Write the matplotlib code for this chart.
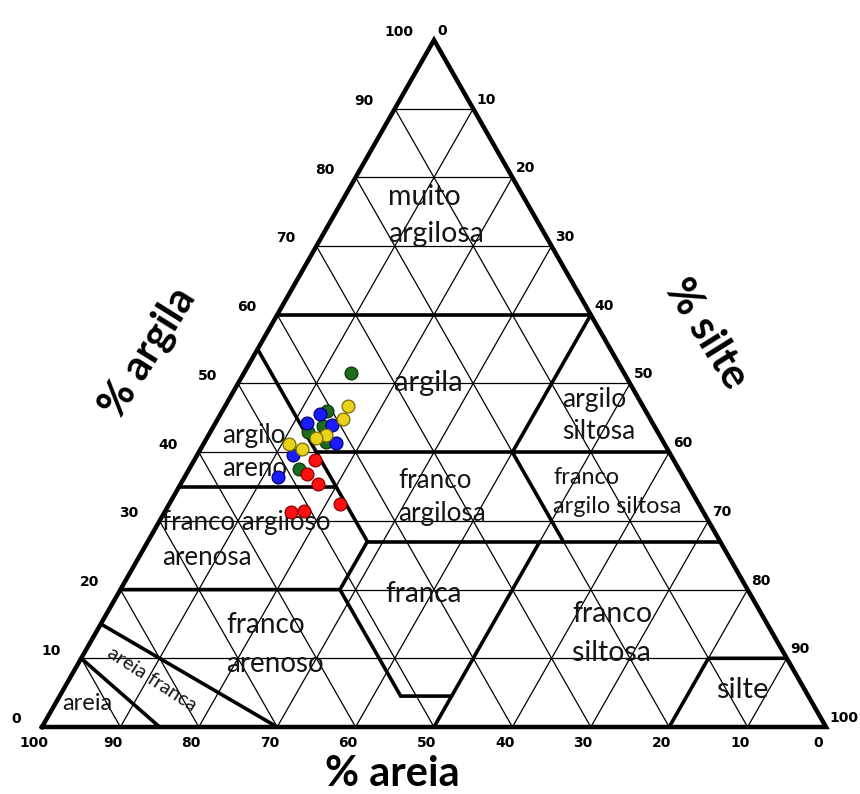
import numpy as np
import matplotlib
matplotlib.use("Agg")
import matplotlib.pyplot as plt

plt.rcParams['font.family'] = ['Lato', 'DejaVu Sans']

# ---------------- data ----------------
tick_values = [0, 10, 20, 30, 40, 50, 60, 70, 80, 90, 100]
tick_labels = ["0", "10", "20", "30", "40", "50", "60", "70", "80", "90", "100"]

# samples: (% areia, % silte, % argila)
green_sand = [34.8, 40.7, 42.2, 44.6, 43.0, 48.4]
green_silt = [13.6, 13.3, 14.0, 12.5, 15.5, 14.0]
green_clay = [51.6, 46.0, 43.8, 42.9, 41.5, 37.6]

blue_sand = [41.8, 44.0, 41.1, 41.8, 48.2, 51.7]
blue_silt = [12.6, 11.7, 15.0, 16.9, 12.2, 11.9]
blue_clay = [45.6, 44.3, 43.9, 41.3, 39.6, 36.4]

yellow_sand = [37.6, 39.2, 42.5, 44.0, 47.9, 46.6]
yellow_silt = [15.7, 16.0, 15.0, 13.9, 10.9, 13.0]
yellow_clay = [46.7, 44.8, 42.5, 42.1, 41.2, 40.4]

red_sand = [45.8, 47.8, 47.1, 45.8, 52.6, 50.9]
red_silt = [15.4, 15.4, 17.5, 21.7, 16.1, 17.7]
red_clay = [38.8, 36.8, 35.4, 32.5, 31.3, 31.4]

# class boundaries, vertices as (% areia, % silte, % argila)
boundary_areia = [(90, 0, 10), (85, 15, 0)]
boundary_areia_franca = [(85, 0, 15), (70, 30, 0)]
boundary_franco_arenoso = [(80, 0, 20), (52, 28, 20), (52, 43.5, 4.5), (45.5, 50, 4.5)]
boundary_silte50 = [(50, 50, 0), (23, 50, 27)]
boundary_silte28 = [(52, 28, 20), (45, 28, 27)]
boundary_areia45 = [(45, 0, 55), (45, 28, 27)]
boundary_argila35 = [(65, 0, 35), (45, 20, 35)]
boundary_argila27 = [(45, 28, 27), (0, 73, 27)]
boundary_argila40 = [(45, 15, 40), (0, 60, 40)]
boundary_siltosa = [(20, 53, 27), (20, 40, 40), (0, 40, 60)]
boundary_argila60 = [(40, 0, 60), (0, 40, 60)]
boundary_silte = [(20, 80, 0), (10, 80, 10), (0, 90, 10)]

boundaries = [boundary_areia, boundary_areia_franca, boundary_franco_arenoso,
              boundary_silte50, boundary_silte28, boundary_areia45,
              boundary_argila35, boundary_argila27, boundary_argila40,
              boundary_siltosa, boundary_argila60, boundary_silte]

H = np.sqrt(3) / 2


def tern(sand, silt, clay):
    sand = np.asarray(sand, float)
    silt = np.asarray(silt, float)
    clay = np.asarray(clay, float)
    return silt + clay / 2.0, clay * H


# ---------------- figure ----------------
fig = plt.figure(figsize=(8.6, 7.94), dpi=100)
ax = fig.add_axes([42 / 860, (794 - 727) / 794, 784 / 860, 687 / 794])
ax.set_xlim(0, 100)
ax.set_ylim(0, 100 * H)
ax.axis('off')

# thin grid
for v in tick_values[1:-1]:
    x, y = tern([100 - v, 0], [0, 100 - v], [v, v])          # constant clay
    ax.plot(x, y, color='black', lw=0.9, zorder=1, clip_on=False)
    x, y = tern([v, v], [100 - v, 0], [0, 100 - v])          # constant sand
    ax.plot(x, y, color='black', lw=0.9, zorder=1, clip_on=False)
    x, y = tern([100 - v, 0], [v, v], [0, 100 - v])          # constant silt
    ax.plot(x, y, color='black', lw=0.9, zorder=1, clip_on=False)

# class boundaries
for b in boundaries:
    s, si, c = zip(*b)
    x, y = tern(s, si, c)
    ax.plot(x, y, color='black', lw=2.6, zorder=2, solid_capstyle='round',
            solid_joinstyle='miter', clip_on=False)

# outline
x, y = tern([100, 0, 0, 100], [0, 100, 0, 0], [0, 0, 100, 0])
ax.plot(x, y, color='black', lw=3.2, zorder=3, solid_joinstyle='miter', clip_on=False)

# tick labels
tick_font = dict(family='DejaVu Sans', fontweight='bold', fontsize=10, color='black')
for v, lab in zip(tick_values, tick_labels):
    x, y = tern(100 - v, 0, v)          # clay, left edge
    ax.annotate(lab, (x, y), xytext=(-15, 5.5), textcoords='offset points',
                ha='right', va='center', **tick_font)
    x, y = tern(0, v, 100 - v)          # silt, right edge
    ax.annotate(lab, (x, y), xytext=(2.5, 6.5), textcoords='offset points',
                ha='left', va='center', **tick_font)
    x, y = tern(v, 100 - v, 0)          # sand, bottom
    ax.annotate(lab, (x, y), xytext=(-5.5, -11.5), textcoords='offset points',
                ha='center', va='center', **tick_font)

# axis titles
title_font = dict(fontweight='bold', fontsize=30, color='black')
fig.text(392 / 860, 1 - 774 / 794, '% areia', ha='center', va='center', **title_font)
fig.text(148 / 860, 1 - 352 / 794, '% argila', ha='center', va='center',
         rotation=58, rotation_mode='anchor', **title_font)
fig.text(706 / 860, 1 - 334 / 794, '% silte', ha='center', va='center',
         rotation=-58, rotation_mode='anchor', **title_font)

# class labels
lab_font = dict(color='#161616', zorder=4)


def px(xp, yp):
    return (xp - 42) / 7.84, (727 - yp) / 7.933


def label(text, xp, yp, size, ha='left', **kw):
    x, y = px(xp, yp)
    d = dict(lab_font)
    d.update(kw)
    ax.text(x, y, text, ha=ha, va='center', fontsize=size, **d)


label('muito', 388, 197, 20.5)
label('argilosa', 388, 234, 20.5)
label('argila', 428, 383, 21, ha='center')
label('argilo', 562, 399, 19)
label('siltosa', 562, 431, 19)
label('argilo', 222, 435, 18.8)
label('areno', 222, 468, 18.5)
label('franco', 398, 480, 18.7)
label('argilosa', 398, 513, 18.8)
label('franco', 553, 477, 16.9)
label('argilo siltosa', 553, 506, 16.9)
label('franco argiloso', 162, 522, 18.6)
label('arenosa', 162, 557, 18.6)
label('franca', 424, 594, 20, ha='center')
label('franco', 572, 614, 20.4)
label('siltosa', 572, 653, 20.4)
label('franco', 226, 625, 20.2)
label('arenoso', 226, 664, 20)
label('silte', 742, 690, 21, ha='center')
label('areia', 87, 703, 17, ha='center')
label('areia franca', 152, 679, 14.4, ha='center', rotation=-33,
      rotation_mode='anchor')

# samples
series = [
    (green_sand, green_silt, green_clay, '#1d6b1d', '#0b360b'),
    (blue_sand, blue_silt, blue_clay, '#1b1bff', '#00006e'),
    (yellow_sand, yellow_silt, yellow_clay, '#e8d21c', '#7a6a00'),
    (red_sand, red_silt, red_clay, '#ff1010', '#8a0000'),
]
for s, si, c, fc, ec in series:
    x, y = tern(s, si, c)
    ax.scatter(x, y, s=85, c=fc, edgecolors=ec, linewidths=0.9, zorder=5, clip_on=False)

fig.savefig('out.png', dpi=100)
